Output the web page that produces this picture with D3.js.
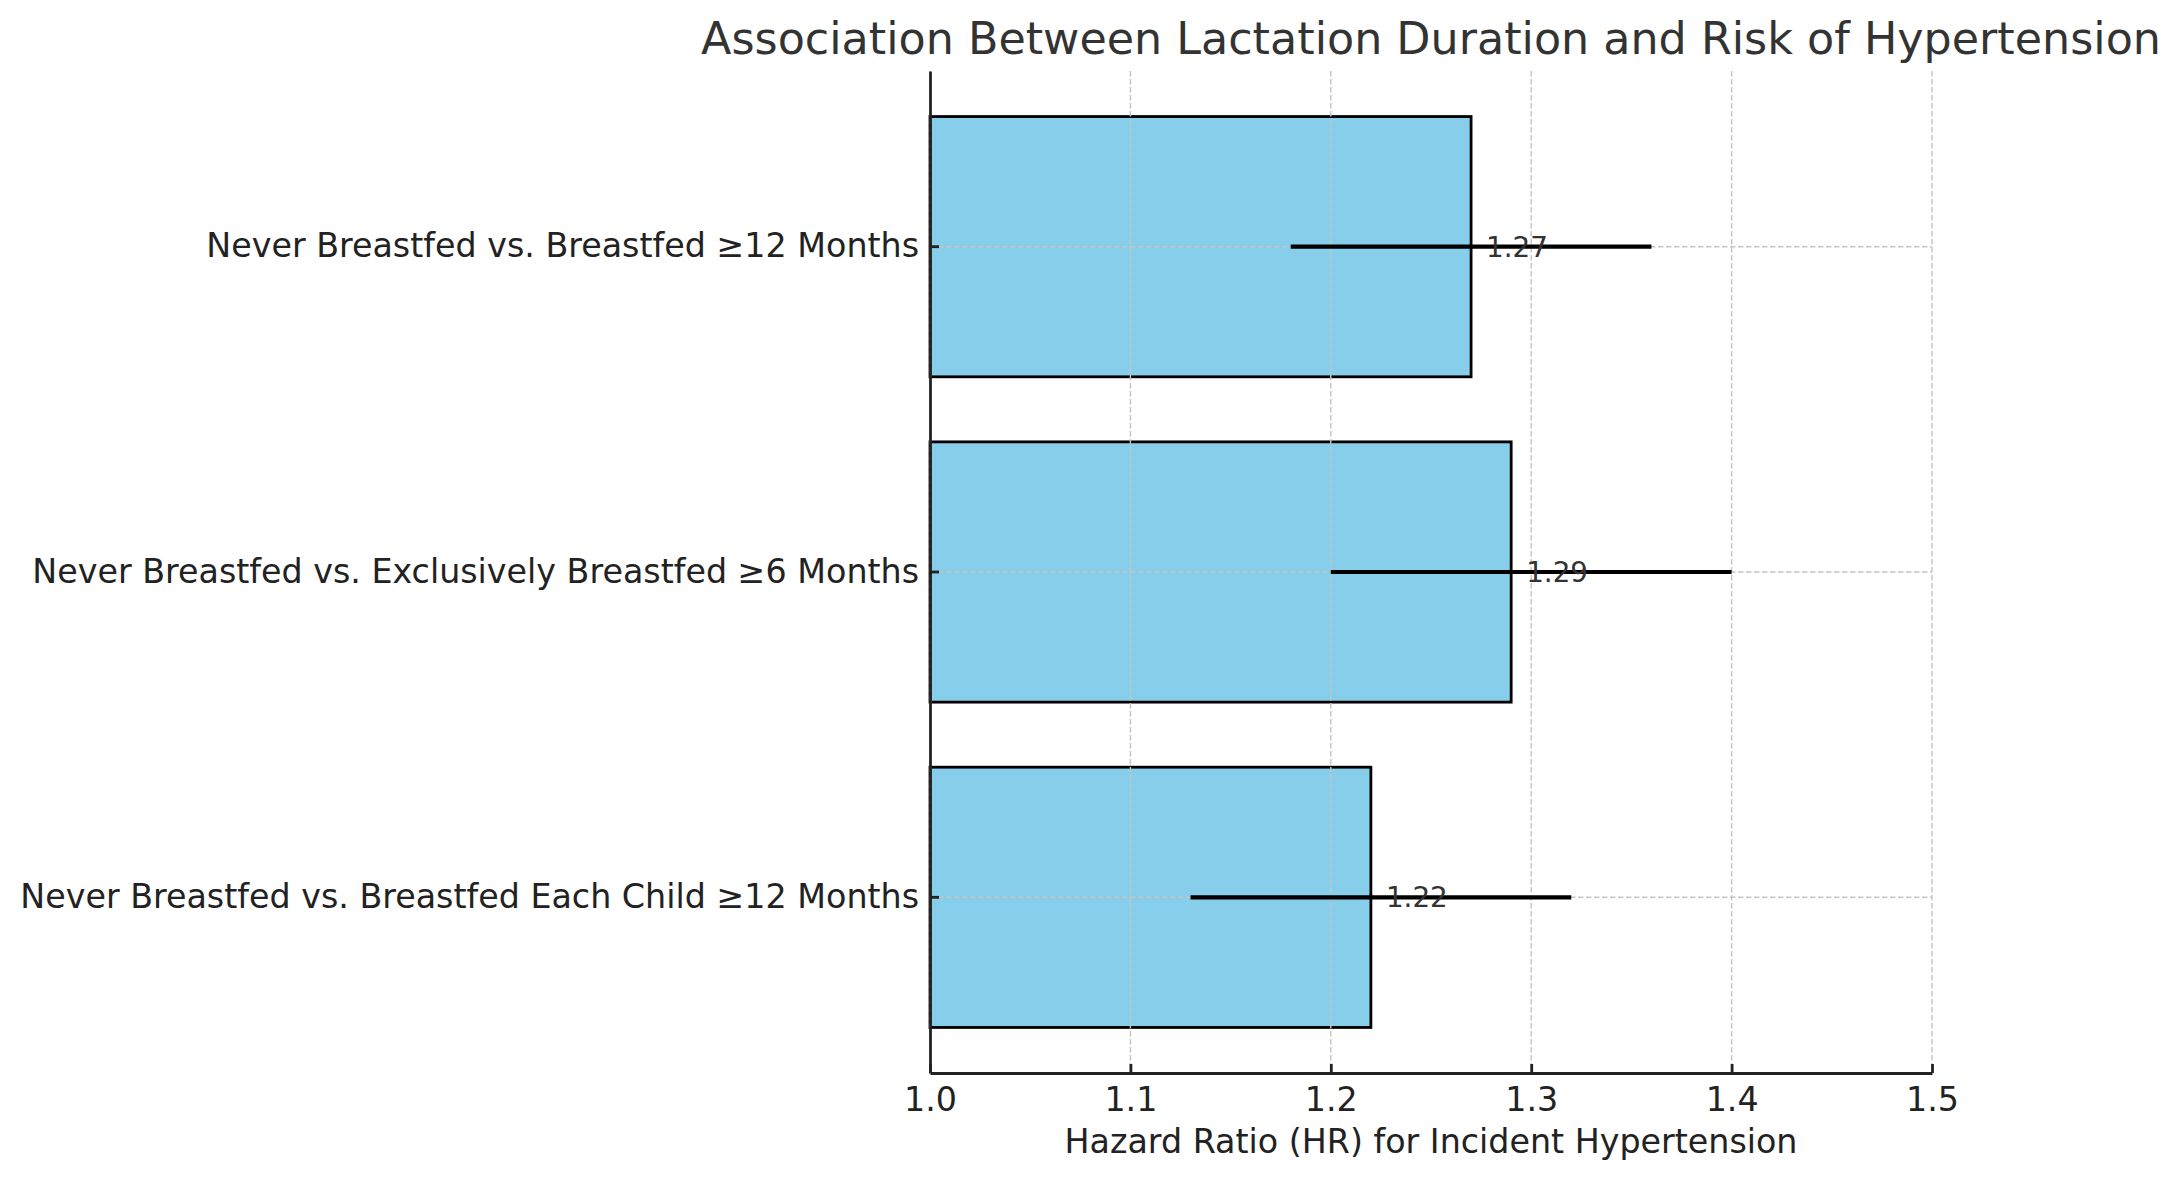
<!DOCTYPE html>
<html>
<head>
<meta charset="utf-8">
<script src="https://cdn.jsdelivr.net/npm/d3@7"></script>
<style>
  html, body { margin: 0; padding: 0; background: #fff; }
  svg { display: block; font-family: "DejaVu Sans", sans-serif; }
</style>
</head>
<body>
<svg id="chart" width="2183" height="1180"></svg>
<script>
// ---- Data ----
const categories = [
  "Never Breastfed vs. Breastfed \u226512 Months",
  "Never Breastfed vs. Exclusively Breastfed \u22656 Months",
  "Never Breastfed vs. Breastfed Each Child \u226512 Months"
];
const hazardRatios = [1.27, 1.29, 1.22];
const ciLower = [1.18, 1.20, 1.13];
const ciUpper = [1.36, 1.40, 1.32];
const xTicks = [1.0, 1.1, 1.2, 1.3, 1.4, 1.5];
const titleText = "Association Between Lactation Duration and Risk of Hypertension";
const xLabelText = "Hazard Ratio (HR) for Incident Hypertension";

// ---- Layout ----
const W = 2183, H = 1180;
const plotL = 930, plotR = 1932, plotT = 71, plotB = 1073;

const svg = d3.select("#chart");

const x = d3.scaleLinear().domain([1.0, 1.5]).range([plotL, plotR]);
const y = d3.scaleBand().domain(categories).range([plotT, plotB])
  .paddingInner(0.2).paddingOuter(0.14);

// Bars
svg.append("g").selectAll("rect").data(categories).join("rect")
  .attr("x", x(1.0))
  .attr("y", d => y(d))
  .attr("width", (d, i) => x(hazardRatios[i]) - x(1.0))
  .attr("height", y.bandwidth())
  .attr("fill", "#87CEEB")
  .attr("stroke", "#000")
  .attr("stroke-width", 2.8);

// Grid (drawn above bars)
const grid = svg.append("g").attr("stroke", "#c4c4c4").attr("stroke-width", 1.4)
  .attr("stroke-dasharray", "5.5,2.5");
grid.selectAll("line.v").data(xTicks).join("line").attr("class", "v")
  .attr("x1", d => x(d)).attr("x2", d => x(d))
  .attr("y1", plotT).attr("y2", plotB);
grid.selectAll("line.h").data(categories).join("line").attr("class", "h")
  .attr("x1", plotL).attr("x2", plotR)
  .attr("y1", d => y(d) + y.bandwidth() / 2).attr("y2", d => y(d) + y.bandwidth() / 2);

// Error bars
svg.append("g").selectAll("line").data(categories).join("line")
  .attr("x1", (d, i) => x(ciLower[i]))
  .attr("x2", (d, i) => x(ciUpper[i]))
  .attr("y1", d => y(d) + y.bandwidth() / 2)
  .attr("y2", d => y(d) + y.bandwidth() / 2)
  .attr("stroke", "#000").attr("stroke-width", 4.2);

// Value labels
svg.append("g").selectAll("text").data(categories).join("text")
  .attr("x", (d, i) => x(hazardRatios[i]) + 15)
  .attr("y", d => y(d) + y.bandwidth() / 2)
  .attr("dy", "0.36em")
  .attr("font-size", 27.8)
  .attr("fill", "#333")
  .text((d, i) => hazardRatios[i].toFixed(2));

// X axis
const xAxis = d3.axisBottom(x).tickValues(xTicks).tickFormat(d3.format(".1f"))
  .tickSizeInner(-9).tickSizeOuter(0).tickPadding(14);
const gx = svg.append("g").attr("transform", `translate(0,${plotB})`).call(xAxis);
gx.select(".domain").attr("stroke", "#222").attr("stroke-width", 2.8);
gx.selectAll(".tick line").attr("stroke", "#222").attr("stroke-width", 2.8);
gx.selectAll(".tick text").attr("font-size", 33.3).attr("fill", "#222")
  .attr("font-family", "DejaVu Sans");

// Y axis
const yAxis = d3.axisLeft(y).tickSizeInner(-9).tickSizeOuter(0).tickPadding(11);
const gy = svg.append("g").attr("transform", `translate(${plotL},0)`).call(yAxis);
gy.select(".domain").attr("stroke", "#222").attr("stroke-width", 2.8);
gy.selectAll(".tick line").attr("stroke", "#222").attr("stroke-width", 2.8);
gy.selectAll(".tick text").attr("font-size", 33.3).attr("fill", "#222")
  .attr("font-family", "DejaVu Sans");

// Axis label
svg.append("text")
  .attr("x", (plotL + plotR) / 2).attr("y", 1153)
  .attr("text-anchor", "middle")
  .attr("font-size", 33.3).attr("fill", "#222")
  .text(xLabelText);

// Title
svg.append("text")
  .attr("x", (plotL + plotR) / 2).attr("y", 54)
  .attr("text-anchor", "middle")
  .attr("font-size", 44.4).attr("fill", "#333")
  .text(titleText);
</script>
</body>
</html>
